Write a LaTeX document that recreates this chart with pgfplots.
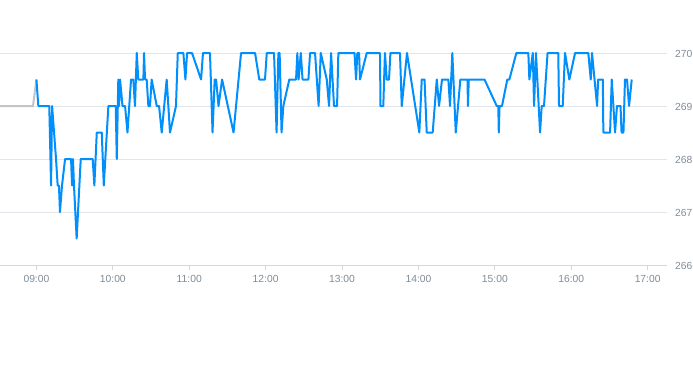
\documentclass[border=0pt]{standalone}
\usepackage{pgfplots}
\pgfplotsset{compat=1.18}
\usepackage{fontspec}
\setmainfont{Liberation Sans}
\definecolor{lineblue}{HTML}{008FFB}
\definecolor{pregray}{HTML}{C4C4C4}
\definecolor{gridc}{HTML}{E2E5EA}
\definecolor{axisc}{HTML}{D3D8DF}
\definecolor{labc}{HTML}{7F8B99}
\begin{document}
\begin{tikzpicture}
\useasboundingbox (0,0) rectangle (693pt,365pt);
\begin{axis}[
  at={(0pt,100pt)}, anchor=south west,
  scale only axis, width=667pt, height=212pt,
  xmin=511.4, xmax=1035.2, ymin=266, ymax=270,
  clip=false,
  axis x line*=bottom, axis y line*=right,
  x axis line style={draw=axisc, line width=1pt, -},
  y axis line style={draw=none},
  xtick={540,600,660,720,780,840,900,960,1020},
  xticklabels={09:00,10:00,11:00,12:00,13:00,14:00,15:00,16:00,17:00},
  x tick style={draw=axisc, line width=0.8pt},
  tick align=outside, major tick length=5pt,
  ytick={266,267,268,269,270},
  ymajorgrids, grid style={draw=gridc, line width=0.8pt},
  yticklabel pos=right,
  y tick style={draw=none},
  yticklabel style={anchor=west, inner sep=0pt, xshift=3pt, yshift=-1pt},
  xticklabel style={yshift=-2pt},
  tick label style={font=\fontsize{10.3}{12}\selectfont, text=labc},
  /pgf/number format/assume math mode=true,
]
\addplot[no marks, draw=pregray, line width=2pt] coordinates {
(511.4,269) (537.3,269) (540,269.5)
};
\addplot[no marks, draw=lineblue, line width=2pt, line join=round] coordinates {
(540,269.5) (541.5,269) (550.1,269) (551.5,267.5) (552.3,269) (555.4,268)
(556.7,267.5) (557.7,267.5) (558.5,267) (560.1,267.5) (562.5,268) (567.2,268)
(568,267.5) (568.7,268) (569.5,267.5) (571.6,266.5) (574.8,268) (584.2,268)
(585.5,267.5) (587.4,268.5) (591.3,268.5) (592.9,267.5) (596.5,269) (602.3,269)
(603.1,268) (604.3,269.5) (604.9,269) (605.7,269.5) (607.6,269) (609.6,269)
(611.5,268.5) (614.3,269.5) (616.1,269.5) (617.4,269) (618.8,270) (620,269.5)
(624,269.5) (624.5,270) (625.3,269.5) (626.6,269.5) (627.9,269) (629.2,269)
(630.5,269.5) (634.5,269) (636.3,269) (638.4,268.5) (642.3,269.5) (644.9,268.5)
(649.6,269) (651,270) (655.4,270) (657,269.5) (658.3,270) (662.2,270)
(669.3,269.5) (670.8,270) (676.3,270) (678.3,268.5) (680,269.5) (681.1,269.5)
(683,269) (685.8,269.5) (694.8,268.5) (700.7,270) (711.7,270) (715,269.5)
(719.5,269.5) (720.9,270) (726.6,270) (728.6,268.5) (730,270) (731,270)
(732.5,268.5) (733.9,269) (738.6,269.5) (743.9,269.5) (744.9,270) (745.9,269.5)
(747.6,270) (749,269.5) (753.6,269.5) (754.9,270) (758.8,270) (761.6,269)
(763.3,270) (768,269.5) (769.8,269) (771.4,270) (773.7,269) (776.1,269)
(777.1,270) (789.8,270) (791,269.5) (792,270) (793.4,270) (794.1,269.5)
(799.4,270) (809.8,270) (810.2,269) (812.4,269) (813.7,270) (815.1,269.5)
(816.9,269.5) (818,270) (825.5,270) (826.9,269) (831,270) (840.7,268.5)
(842.6,269.5) (844.8,269.5) (846.5,268.5) (851.2,268.5) (854.4,269.5) (856.2,269)
(858.5,269.5) (863.5,269.5) (864.8,269) (866.6,270) (869.3,268.5) (872.9,269.5)
(878.5,269.5) (878.9,269) (879.5,269.5) (891.9,269.5) (901.5,269) (902.7,269)
(903.1,268.5) (903.7,269) (905.6,269) (909.8,269.5) (911.4,269.5) (916.9,270)
(926.3,270) (927.1,269.5) (929.8,270) (930.8,269) (932.3,270) (935.5,268.5)
(936.8,269) (938.6,269) (941.4,270) (949.8,270) (950.4,269) (953.3,269)
(955.1,270) (958.5,269.5) (963,270) (973.4,270) (975.3,269.5) (976.3,270)
(980.3,269) (981.1,269.5) (984.8,269.5) (985.2,268.5) (990.5,268.5) (991.8,269.5)
(994.4,268.5) (995.9,269) (998.7,269) (999.5,268.5) (1001,268.5) (1002.2,269.5)
(1003.8,269.5) (1005.4,269) (1007.5,269.5)
};
\end{axis}
\end{tikzpicture}
\end{document}
